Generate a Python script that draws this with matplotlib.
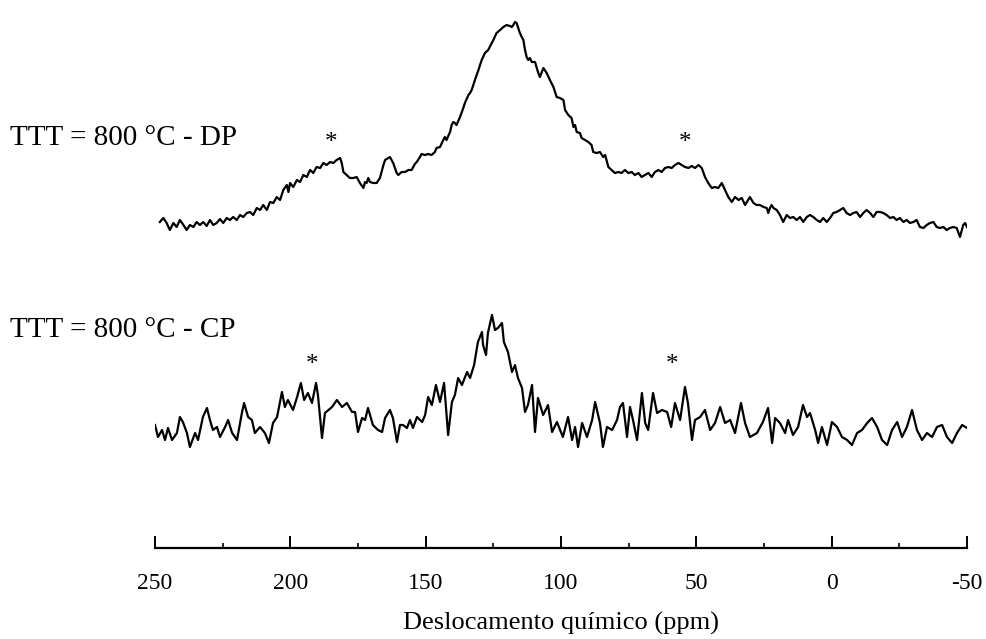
import matplotlib.pyplot as plt
from matplotlib.ticker import MultipleLocator

# ---- data (ppm, intensity in arbitrary units) ----
dp_ppm = [248.2, 246.9, 245.7, 244.5, 243.2, 242.0, 240.8, 239.5, 238.3, 237.1,
          235.8, 234.6, 233.4, 232.2, 230.9, 229.7, 228.5, 227.2, 226.0, 224.8,
          223.5, 222.3, 221.1, 219.8, 218.6, 217.4, 216.1, 214.9, 213.7, 212.4,
          211.2, 210.0, 208.7, 207.5, 206.3, 205.0, 203.8, 202.6, 201.3, 200.7,
          200.1, 198.9, 197.6, 196.4, 195.2, 193.9, 192.7, 191.5, 190.3, 189.0,
          187.8, 186.6, 185.3, 184.1, 182.9, 181.6, 181.0, 180.4, 179.2, 178.0,
          176.7, 175.5, 174.3, 173.0, 172.4, 171.8, 171.2, 170.6, 169.3, 168.1,
          166.9, 165.6, 165.0, 163.8, 163.2, 162.6, 162.0, 160.7, 160.1, 158.9,
          157.6, 156.4, 155.2, 154.6, 154.0, 153.3, 152.1, 151.5, 150.3, 149.0,
          147.8, 146.6, 146.0, 144.7, 143.5, 142.9, 142.3, 141.0, 140.4, 139.8,
          139.2, 138.6, 137.3, 136.1, 135.5, 134.2, 133.6, 133.0, 131.8, 130.5,
          129.3, 128.1, 126.9, 125.6, 125.0, 123.8, 122.5, 121.3, 120.1, 118.9,
          118.2, 117.6, 117.0, 116.4, 115.8, 115.2, 114.5, 113.9, 113.3, 112.7,
          112.1, 111.5, 110.8, 109.6, 108.4, 107.8, 106.5, 105.3, 104.1,
          102.8, 101.6, 100.4, 99.1, 98.5, 97.3, 96.1, 95.4, 94.8, 94.2,
          93.0, 92.4, 91.1, 89.9, 88.7, 88.1, 86.8, 85.6, 84.4, 83.7,
          82.5, 81.3, 80.1, 78.8, 77.6, 76.4, 75.1, 73.9, 72.7, 71.4,
          70.2, 69.0, 67.7, 66.5, 65.3, 64.0, 62.8, 61.6, 60.3, 59.1,
          57.9, 56.6, 55.4, 54.2, 52.9, 51.7, 50.5, 49.2, 48.0, 46.8,
          45.6, 44.3, 43.1, 41.9, 40.6, 39.4, 38.2, 36.9, 35.7, 34.4,
          33.2, 32.0,
          30.2, 28.9, 27.7, 26.5, 25.2, 24.0, 23.4, 22.8, 22.2, 21.5,
          20.3, 19.1, 17.9, 16.6, 15.4, 14.2, 12.9, 11.7, 10.5, 9.2,
          8.0, 6.8, 5.5, 4.3, 3.1, 1.8, 0.6, -0.6, -1.8, -3.1,
          -4.3, -5.5, -6.8, -8.0, -9.2, -10.5, -11.7, -12.9, -14.2, -15.4,
          -16.6, -17.9, -19.1, -20.3, -21.6, -22.8, -24.0, -25.2, -26.5, -27.7,
          -28.9, -30.2, -31.4, -32.6, -33.9, -35.1, -36.3, -37.6, -38.8, -40.0,
          -41.3, -42.5, -43.7, -44.9, -46.2, -47.4, -48.6, -49.3, -50.0]
dp_int = [13, 17, 12, 5, 12, 8, 15, 10, 5, 10,
          8, 13, 10, 13, 9, 15, 10, 12, 16, 12,
          17, 15, 18, 15, 20, 18, 22, 23, 20, 27,
          25, 30, 25, 33, 32, 38, 35, 45, 50, 43,
          52, 48, 55, 53, 60, 58, 65, 62, 68, 67,
          72, 70, 73, 72, 75, 77, 72, 63, 60, 57,
          57, 58, 52, 47, 53, 52, 57, 53, 52, 52,
          57, 70, 75, 77, 78, 75, 72, 62, 60, 63,
          63, 65, 65, 68, 71, 73, 78, 81, 80, 81,
          80, 83, 87, 88, 95, 98, 95, 103, 110, 113,
          112, 110, 118, 127, 132, 140, 142, 145, 155, 165,
          175, 182, 185, 192, 195, 202, 205, 208, 210, 209,
          208, 210, 213, 212, 207, 202, 198, 195, 185, 178,
          175, 177, 173, 173, 162, 158, 167, 162, 155,
          148, 138, 137, 135, 125, 120, 117, 108, 110, 103,
          102, 97, 95, 93, 90, 83, 82, 83, 78, 80,
          68, 65, 62, 63, 62, 65, 62, 63, 60, 62,
          58, 60, 62, 58, 63, 65, 63, 67, 68, 67,
          70, 72, 70, 68, 67, 69, 67, 70, 67, 58,
          52, 47, 48, 47, 52, 45, 38, 33, 38, 35,
          37, 30,
          38, 32, 30, 30, 28, 27, 22, 27, 30, 27,
          25, 20, 13, 20, 17, 18, 15, 18, 13, 18,
          20, 18, 15, 13, 17, 13, 17, 22, 23, 25,
          27, 22, 20, 22, 23, 18, 22, 25, 22, 18,
          23, 23, 22, 20, 17, 18, 15, 17, 13, 15,
          12, 13, 15, 8, 7, 10, 12, 13, 8, 7,
          8, 5, 7, 8, 7, -2, 10, 12, 8]

cp_ppm = [250.0, 248.9, 247.4, 246.3, 245.2, 243.7, 241.9, 240.8, 239.7, 238.2,
          237.1, 235.2, 234.1, 232.3, 230.8, 229.7, 228.6, 227.1, 226.0, 224.1,
          223.0, 221.5, 219.7, 217.9, 217.1, 215.6, 214.2, 213.1, 211.2, 209.4,
          207.9, 206.4, 204.9, 203.1, 202.0, 200.9, 199.0, 197.5, 196.1, 194.9,
          193.5, 192.0, 190.5, 189.8, 188.3, 187.2, 184.6, 182.8, 180.9, 179.1,
          177.2, 176.1, 175.0, 173.5, 172.4, 171.3, 169.5, 167.6, 166.1, 165.0,
          163.2, 162.1, 160.6, 159.5, 158.4, 156.9, 155.8, 154.7, 153.2, 151.3,
          150.2, 149.1, 147.7, 146.2, 144.7, 143.2, 141.7, 140.3, 139.2, 138.0,
          136.6, 134.7, 133.6, 132.1, 130.7, 129.2, 128.8, 127.7, 127.0, 125.5,
          124.4, 123.3, 121.8, 121.1, 119.6, 118.1, 117.0, 115.9, 114.4, 113.3,
          112.2, 110.7, 109.6, 108.5, 106.6, 104.8, 103.3, 101.5, 99.3, 97.4,
          95.9, 94.8, 93.7, 92.2, 90.4, 88.5, 87.4, 85.6, 84.5, 83.0,
          81.1, 79.3, 78.2, 77.1, 75.6, 74.5, 73.4, 71.9, 70.1, 68.9,
          67.8, 66.0, 64.5, 62.7, 60.8, 59.3, 57.9, 56.0, 54.2, 53.1,
          51.6, 50.5, 48.6, 46.8, 44.9, 43.1, 41.2, 39.4, 37.5, 35.7,
          33.5, 32.0, 30.2, 27.6, 25.4, 23.5, 22.0, 20.9, 19.1, 17.2,
          16.1, 14.3, 12.4, 10.6, 9.1, 8.0, 6.1, 5.0, 3.6, 1.7,
          -0.1, -2.0, -3.8, -5.7, -7.5, -9.4, -11.2, -13.1, -14.9, -16.8,
          -18.6, -20.5, -22.3, -24.2, -26.0, -27.8, -29.7, -31.5, -33.4, -35.2,
          -37.1, -38.9, -40.8, -42.6, -44.5, -46.3, -48.2, -50.0]
cp_int = [25, 13, 20, 10, 22, 10, 17, 33, 28, 17,
          3, 17, 10, 33, 42, 30, 20, 23, 13, 23,
          30, 17, 10, 37, 47, 33, 30, 17, 23, 17,
          7, 27, 33, 58, 43, 50, 40, 53, 67, 50,
          57, 47, 67, 55, 12, 37, 43, 50, 43, 47,
          38, 38, 18, 32, 30, 42, 25, 20, 18, 32,
          40, 32, 8, 25, 25, 22, 30, 22, 33, 28,
          35, 53, 45, 65, 48, 67, 15, 48, 55, 72,
          65, 78, 72, 85, 108, 118, 105, 95, 117, 135,
          120, 122, 127, 108, 98, 78, 85, 72, 62, 38,
          45, 65, 18, 52, 35, 45, 18, 28, 13, 33,
          10, 23, 3, 27, 13, 30, 48, 27, 3, 23,
          20, 30, 43, 47, 13, 43, 30, 10, 57, 27,
          20, 57, 37, 40, 38, 23, 47, 30, 63, 47,
          10, 30, 33, 40, 20, 27, 43, 27, 30, 17,
          47, 27, 13, 17, 28, 42, 7, 32, 27, 17,
          30, 15, 23, 45, 33, 37, 20, 7, 23, 5,
          28, 23, 13, 10, 5, 17, 20, 27, 32, 23,
          10, 5, 20, 28, 13, 23, 40, 20, 10, 17,
          13, 23, 25, 13, 7, 17, 25, 22]

tick_vals = [250, 200, 150, 100, 50, 0, -50]
tick_labels = ["250", "200", "150", "100", "50", "0", "-50"]
star_dp = [185, 54]
star_cp = [192, 59]

serif = ["Liberation Serif", "DejaVu Serif"]

fig = plt.figure(figsize=(9.87, 6.39), dpi=100)
ax = fig.add_axes([155 / 987, 91 / 639, 812 / 987, 548 / 639])

# stack the two spectra one above the other
top_off = 313
bot_off = 98
ax.plot(dp_ppm, [v + top_off for v in dp_int], color="black", lw=1.6)
ax.plot(cp_ppm, [v + bot_off for v in cp_int], color="black", lw=1.6)

for p in star_dp:
    ax.text(p, 405, "*", ha="center", va="center", fontsize=18, family=serif)
for p in star_cp:
    ax.text(p, 183, "*", ha="center", va="center", fontsize=18, family=serif)

ax.set_xlim(250, -50)
ax.set_ylim(0, 548)
for s in ["top", "left", "right"]:
    ax.spines[s].set_visible(False)
ax.spines["bottom"].set_linewidth(1.6)
ax.set_yticks([])
ax.set_xticks(tick_vals)
ax.set_xticklabels(tick_labels, family=serif, fontsize=17)
ax.xaxis.set_minor_locator(MultipleLocator(25))
ax.tick_params(axis="x", which="major", direction="in", length=9, width=1.4, pad=18)
ax.tick_params(axis="x", which="minor", direction="in", length=3.5, width=1.2)
ax.set_xlabel("Deslocamento químico (ppm)", family=serif, fontsize=19, labelpad=13)

fig.text(10 / 987, 1 - 138 / 639, "TTT = 800 °C - DP", family=serif, fontsize=21, va="center")
fig.text(10 / 987, 1 - 330 / 639, "TTT = 800 °C - CP", family=serif, fontsize=21, va="center")

fig.savefig("out.png", dpi=100)
